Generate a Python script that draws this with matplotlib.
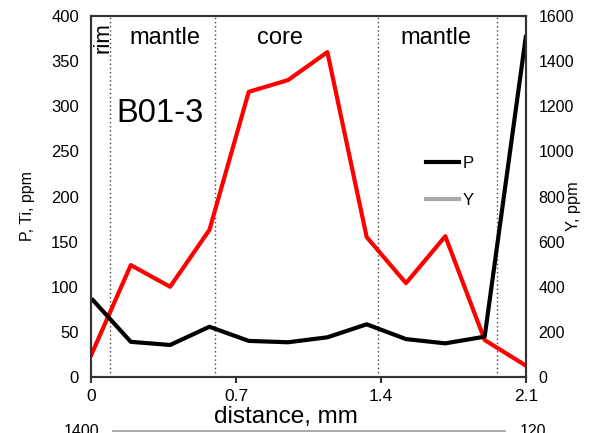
import matplotlib.pyplot as plt
from matplotlib.lines import Line2D
import numpy as np

plt.rcParams["font.family"] = ["Liberation Sans", "DejaVu Sans"]

# distance along profile, mm
dist = [0.0, 0.19, 0.38, 0.57, 0.76, 0.95, 1.14, 1.33, 1.52, 1.71, 1.90, 2.10]
# P, ppm (left axis)
p_ppm = [87, 39, 35.5, 55.7, 40, 38.5, 44, 58.4, 42, 37.3, 44.7, 379]
# Ti, ppm (left axis)
ti_ppm = [25, 124, 100, 163, 316, 329, 360, 155, 104, 156, 41, 12.5]

# zone boundaries, mm
zone_bounds = [0.089, 0.597, 1.383, 1.958]
zone_names = ["mantle", "core", "mantle"]
zone_centers = [0.355, 0.911, 1.667]

xticks = [0, 0.7, 1.4, 2.1]
xtick_labels = ["0", "0.7", "1.4", "2.1"]

fig = plt.figure(figsize=(5.89, 4.33), dpi=100)
ax = fig.add_axes([0.1553, 0.1293, 0.7378, 0.8337])
ax2 = ax.twinx()

for xb in zone_bounds:
    ax.axvline(xb, color="#444444", lw=1.0, ls=(0, (1, 2)), zorder=1)

ax.plot(dist, ti_ppm, color="#ff0000", lw=3.0, zorder=3)
ax.plot(dist, p_ppm, color="black", lw=3.0, zorder=4, solid_capstyle="butt")

ax.set_xlim(0, 2.1)
ax.set_ylim(0, 400)
ax2.set_ylim(0, 1600)
ax.set_xticks(xticks)
ax.set_xticklabels(xtick_labels)
ax.set_yticks(np.arange(0, 401, 50))
ax2.set_yticks(np.arange(0, 1601, 200))

ax.tick_params(axis="x", length=4.3, width=1.5, pad=4, labelsize=12.5, color="#333333")
ax.tick_params(axis="y", length=0, pad=9, labelsize=12)
ax2.tick_params(axis="y", length=0, pad=9, labelsize=11.5)
for a in (ax, ax2):
    for s in a.spines.values():
        s.set_linewidth(1.5)
        s.set_color("#333333")

ax.set_xlabel("distance, mm", fontsize=17.5)
ax.xaxis.set_label_coords(0.448, -0.079, transform=ax.transAxes)
ax.xaxis.label.set_va("top")

ax.set_ylabel("P, Ti, ppm", fontsize=11.5)
ax.yaxis.set_label_coords(-0.148, 0.474, transform=ax.transAxes)
ax.yaxis.label.set_va("center")
ax2.set_ylabel("Y, ppm", fontsize=11.8)
ax2.yaxis.set_label_coords(1.110, 0.474, transform=ax2.transAxes)
ax2.yaxis.label.set_va("center")

ax.text(0.056, 393, "rim", rotation=90, ha="center", va="top", fontsize=16)
for name, xc in zip(zone_names, zone_centers):
    ax.text(xc, 376, name, ha="center", va="center", fontsize=17)
ax.text(0.329, 292, "B01-3", ha="center", va="center", fontsize=23.5)

handles = [
    Line2D([], [], color="black", lw=3.0),
    Line2D([], [], color="#aaaaaa", lw=3.0),
]
ax.legend(handles, ["P", "Y"], loc="upper left", bbox_to_anchor=(0.735, 0.655),
          frameon=False, handlelength=2.0, handletextpad=0.2, labelspacing=1.35,
          fontsize=12)

# top edge of the next panel, cut off by the crop
fig.add_artist(Line2D([113 / 589, 505 / 589], [1 - 431 / 433] * 2,
                      color="#999999", lw=1.2, transform=fig.transFigure))
fig.text(64 / 589, 1 - 424 / 433, "1400", fontsize=11.5, va="top", ha="left")
fig.text(520 / 589, 1 - 424 / 433, "120", fontsize=11.5, va="top", ha="left")

fig.savefig("out.png", dpi=100)
